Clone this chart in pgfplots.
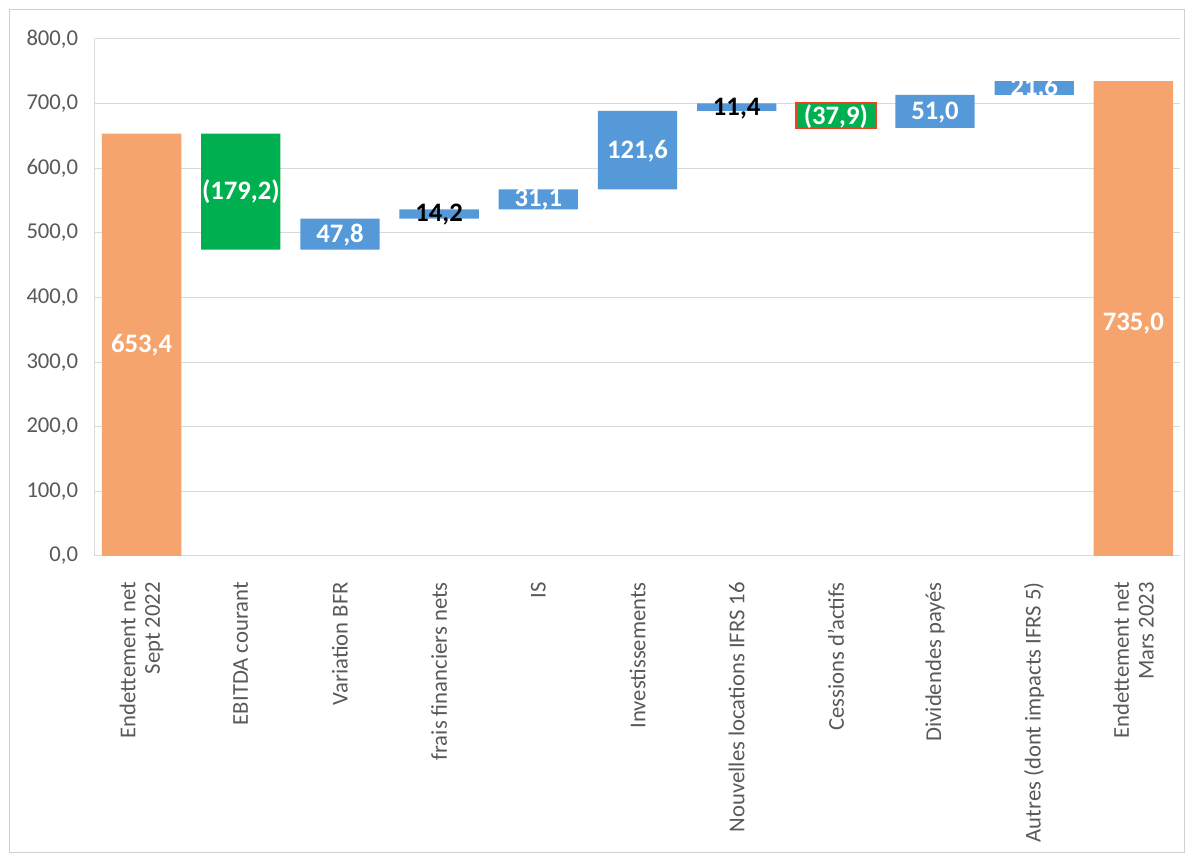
\documentclass[border=0pt]{standalone}
\usepackage{fontspec}
\setmainfont{Carlito}
\usepackage{pgfplots}
\usepackage{pgfplotstable}
\pgfplotsset{compat=1.18}
\definecolor{orangeB}{HTML}{F4A46C}
\definecolor{greenB}{HTML}{00B050}
\definecolor{blueB}{HTML}{5599D8}
\definecolor{gridc}{HTML}{D9D9D9}
\definecolor{framec}{HTML}{D0D0D0}
\definecolor{tickc}{HTML}{595959}
\definecolor{redB}{HTML}{F04020}

\pgfplotsset{wf/.style={scale only axis, width=813.75pt, height=387.75pt,
  xmin=-0.47, xmax=10.47, ymin=0, ymax=800, at={(0,0)}, anchor=south west}}
\tikzset{lbl/.style={font=\bfseries\fontsize{20}{22}\selectfont, text=white}}

\pgfplotstableread{
x base orange green blue
0 0 653.4 0 0
1 474.2 0 179.2 0
2 474.2 0 0 47.8
3 522.0 0 0 14.2
4 536.2 0 0 31.1
5 567.3 0 0 121.6
6 688.9 0 0 11.4
7 662.4 0 37.9 0
8 662.4 0 0 51.0
9 713.4 0 0 21.6
10 0 735.0 0 0
}\wfdata

\begin{document}
\begin{tikzpicture}
\path[use as bounding box] (-71.25pt,-224.25pt) rectangle (818.25pt,417pt);
\draw[framec, line width=0.75pt] (-63.75pt,-222.75pt) rectangle (816.75pt,409.5pt);
\begin{axis}[wf,
  ybar stacked, bar width=0.8,
  axis x line=bottom, axis y line=left,
  axis line style={-, draw=gridc, line width=0.75pt},
  xtick style={draw=none}, ytick style={draw=none},
  ymajorgrids, grid style={gridc, line width=0.75pt},
  ytick={0,100,...,800},
  /pgf/number format/.cd, fixed, fixed zerofill, precision=1, use comma, assume math mode=true,
  /pgfplots/.cd,
  yticklabel style={font=\fontsize{17}{19}\selectfont, text=tickc},
  yticklabel shift=7pt,
  xtick={0,...,10},
  xticklabels={{Endettement net\\Sept 2022},{EBITDA courant},{Variation BFR},{frais financiers nets},{IS},{Investissements},{Nouvelles locations IFRS 16},{Cessions d'actifs},{Dividendes payés},{Autres (dont impacts IFRS 5)},{Endettement net\\Mars 2023}},
  xticklabel style={rotate=90, anchor=east, align=right, font=\fontsize{17}{18.5}\selectfont, text=tickc},
  xticklabel shift=14pt,
]
\addplot[draw=none, fill=none] table[x=x, y=base] {\wfdata};
\addplot[draw=none, fill=orangeB] table[x=x, y=orange] {\wfdata};
\addplot[draw=none, fill=greenB] table[x=x, y=green] {\wfdata};
\addplot[draw=none, fill=blueB] table[x=x, y=blue] {\wfdata};
\end{axis}
\begin{axis}[wf, hide axis, clip=false]
\addplot[fill=greenB, draw=redB, line width=1.5pt, line join=miter, mark=none] coordinates {(6.6,662.4) (7.4,662.4) (7.4,700.3) (6.6,700.3)} -- cycle;
\node[lbl] at (axis cs:0,326.7) {653,4};
\node[lbl] at (axis cs:1,563.8) {(179,2)};
\node[lbl] at (axis cs:2,497.0) {47,8};
\node[lbl, text=black] at (axis cs:3,529.1) {14,2};
\node[lbl] at (axis cs:4,551.0) {31,1};
\node[lbl] at (axis cs:5,626.0) {121,6};
\node[lbl, text=black] at (axis cs:6,692.5) {11,4};
\node[lbl] at (axis cs:7,680.5) {(37,9)};
\node[lbl] at (axis cs:8,686.0) {51,0};
\node[lbl] at (axis cs:9,723.5) {21,6};
\node[lbl] at (axis cs:10,360.0) {735,0};
\end{axis}
\end{tikzpicture}
\end{document}
